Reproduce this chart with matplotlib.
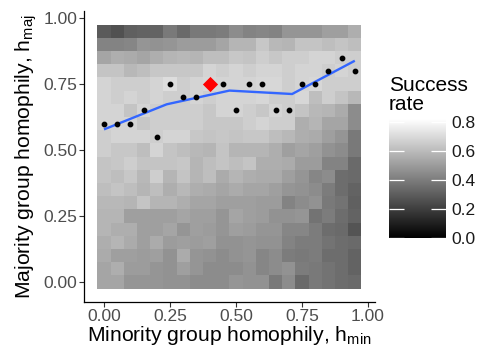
import numpy as np
import matplotlib
matplotlib.use("Agg")
import matplotlib.pyplot as plt

plt.rcParams['font.family'] = ['Liberation Sans', 'DejaVu Sans']
plt.rcParams['mathtext.default'] = 'regular'

# grid of homophily values (cell centres)
h_min = [0.00, 0.05, 0.10, 0.15, 0.20, 0.25, 0.30, 0.35, 0.40, 0.45,
         0.50, 0.55, 0.60, 0.65, 0.70, 0.75, 0.80, 0.85, 0.90, 0.95]
h_maj = [0.95, 0.90, 0.85, 0.80, 0.75, 0.70, 0.65, 0.60, 0.55, 0.50,
         0.45, 0.40, 0.35, 0.30, 0.25, 0.20, 0.15, 0.10, 0.05, 0.00]

# success rate, rows follow h_maj (top row first)
success = [
    [.29, .26, .31, .32, .32, .39, .34, .39, .39, .40, .45, .42, .43, .42, .48, .48, .48, .51, .51, .56],
    [.42, .42, .43, .48, .47, .48, .50, .50, .50, .53, .58, .58, .64, .59, .58, .63, .63, .61, .63, .61],
    [.53, .56, .55, .53, .56, .58, .59, .58, .61, .61, .64, .63, .66, .64, .66, .66, .68, .68, .66, .66],
    [.63, .63, .59, .61, .64, .64, .64, .64, .68, .66, .68, .66, .68, .68, .66, .68, .68, .66, .68, .66],
    [.68, .66, .66, .66, .68, .71, .66, .68, .69, .68, .68, .68, .69, .69, .66, .68, .69, .66, .66, .66],
    [.68, .66, .68, .66, .68, .66, .66, .68, .66, .68, .68, .68, .69, .66, .66, .69, .61, .66, .63, .59],
    [.68, .68, .63, .68, .66, .66, .66, .66, .64, .68, .68, .66, .64, .68, .66, .63, .59, .58, .55, .45],
    [.68, .68, .68, .64, .66, .66, .66, .66, .64, .64, .64, .66, .68, .66, .66, .56, .58, .53, .53, .45],
    [.66, .68, .68, .68, .66, .68, .68, .64, .63, .64, .63, .64, .64, .61, .59, .56, .55, .51, .48, .39],
    [.66, .64, .64, .61, .68, .63, .61, .59, .58, .63, .58, .58, .58, .56, .51, .53, .51, .47, .45, .39],
    [.63, .64, .66, .63, .63, .63, .64, .58, .61, .63, .61, .63, .56, .56, .55, .50, .50, .42, .42, .34],
    [.63, .61, .64, .59, .66, .58, .63, .58, .61, .55, .58, .56, .55, .55, .51, .48, .43, .45, .35, .34],
    [.61, .63, .61, .58, .61, .56, .59, .56, .55, .53, .55, .53, .53, .51, .48, .47, .45, .40, .35, .32],
    [.59, .59, .58, .63, .58, .58, .56, .53, .53, .51, .51, .51, .50, .50, .42, .45, .47, .39, .37, .31],
    [.58, .58, .51, .51, .51, .51, .53, .51, .51, .48, .53, .51, .50, .47, .47, .48, .37, .40, .35, .32],
    [.58, .56, .56, .51, .51, .53, .48, .51, .50, .48, .51, .50, .48, .48, .43, .43, .40, .35, .34, .27],
    [.56, .58, .55, .51, .55, .50, .51, .50, .51, .47, .47, .48, .47, .47, .42, .40, .40, .37, .35, .34],
    [.55, .51, .51, .50, .51, .47, .55, .48, .47, .45, .47, .48, .43, .45, .40, .39, .40, .35, .35, .32],
    [.53, .56, .50, .50, .48, .47, .51, .48, .45, .45, .45, .47, .43, .45, .47, .40, .39, .37, .35, .32],
    [.53, .53, .48, .48, .48, .47, .47, .45, .45, .45, .48, .47, .47, .39, .45, .34, .39, .37, .35, .34],
]

# best h_maj for each h_min
best_maj = [0.60, 0.60, 0.60, 0.65, 0.55, 0.75, 0.70, 0.70, 0.75, 0.75,
            0.65, 0.75, 0.75, 0.65, 0.65, 0.75, 0.75, 0.80, 0.85, 0.80]

# smoothed trend
trend_x = [0.00, 0.2375, 0.475, 0.7125, 0.95]
trend_y = [0.578, 0.673, 0.725, 0.712, 0.838]

# highlighted point
red_x, red_y = 0.40, 0.75

fig = plt.figure(figsize=(4.85, 3.48), dpi=100)
ax = fig.add_axes([0.1736, 0.1328, 0.5988, 0.8345])

grid = np.array(success)[::-1]
mesh = ax.pcolormesh(h_min, h_maj[::-1], grid, shading='nearest',
                     cmap='gray', vmin=0, vmax=0.82)

ax.plot(trend_x, trend_y, color='#3366FF', lw=1.7, solid_capstyle='butt')
best = [(x, y) for x, y in zip(h_min, best_maj) if x != red_x]
ax.scatter([b[0] for b in best], [b[1] for b in best], s=10, color='black', zorder=3)
ax.scatter([red_x], [red_y], marker='D', s=60, color='red', zorder=4, linewidths=0)

ax.set_xlim(-0.075, 1.025)
ax.set_ylim(-0.075, 1.025)
ticks = [0.00, 0.25, 0.50, 0.75, 1.00]
ax.set_xticks(ticks)
ax.set_yticks(ticks)
ax.set_xticklabels([f"{t:.2f}" for t in ticks])
ax.set_yticklabels([f"{t:.2f}" for t in ticks])
ax.tick_params(labelsize=12.5, labelcolor='#4D4D4D', color='#333333', length=3.5, width=0.8, pad=1.5)
for s in ['top', 'right']:
    ax.spines[s].set_visible(False)
for s in ['left', 'bottom']:
    ax.spines[s].set_linewidth(0.9)

ax.set_xlabel('Minority group homophily, h$_{min}$', fontsize=15.2)
ax.xaxis.set_label_coords(0.5, -0.076)
ax.set_ylabel('Majority group homophily, h$_{maj}$', fontsize=15.2, labelpad=3)

cax = fig.add_axes([389 / 485, 1 - 238 / 348, 57 / 485, 0.3420])
cb = fig.colorbar(mesh, cax=cax)
cb.outline.set_visible(False)
cb.set_ticks([0.0, 0.2, 0.4, 0.6, 0.8])
cb.set_ticklabels(['0.0', '0.2', '0.4', '0.6', '0.8'])
cax.tick_params(which='both', direction='in', left=True, right=True, color='white',
                length=11, width=0.9, labelsize=12.5, labelcolor='#1A1A1A', pad=4)
fig.text(389 / 485, 1 - 76 / 348, 'Success\nrate', fontsize=15, va='top', ha='left',
         linespacing=1.0)

fig.savefig('out.png', dpi=100)
